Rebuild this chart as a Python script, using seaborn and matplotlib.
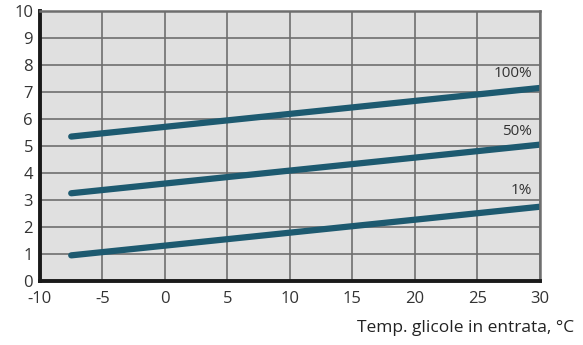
import numpy as np
import pandas as pd
import matplotlib
matplotlib.use("Agg")
import matplotlib.pyplot as plt
import seaborn as sns

# dati
temps = [-7.5, 30]
load_100 = [5.35, 7.15]
load_50 = [3.25, 5.05]
load_1 = [0.95, 2.75]
series_labels = ["100%", "50%", "1%"]
label_y = [7.68, 5.55, 3.35]

x_ticks = list(range(-10, 31, 5))
y_ticks = list(range(0, 11))

LINE_COLOR = "#1d5a70"


def build_frame():
    rows = []
    for name, vals in zip(series_labels, [load_100, load_50, load_1]):
        for t, v in zip(temps, vals):
            rows.append({"temp": t, "val": v, "serie": name})
    return pd.DataFrame(rows)


def main():
    sns.set_theme(style="white")
    plt.rcParams["font.family"] = ["Open Sans", "DejaVu Sans"]

    fig = plt.figure(figsize=(5.83, 3.45), dpi=100)
    ax = fig.add_axes([0.0686, 0.1855, 0.857, 0.7825])
    ax.set_facecolor("#e0e0e0")

    df = build_frame()
    sns.lineplot(data=df, x="temp", y="val", hue="serie", ax=ax,
                 palette=[LINE_COLOR] * 3, linewidth=4.5, legend=False,
                 solid_capstyle="round")

    ax.set_xlim(-10, 30)
    ax.set_ylim(0, 10)
    ax.set_xticks(x_ticks)
    ax.set_yticks(y_ticks)
    ax.set_xticklabels([str(t) for t in x_ticks])
    ax.grid(True, color="#6e6e6e", linewidth=1.2)
    ax.set_axisbelow(True)

    for s in ["left", "bottom"]:
        ax.spines[s].set_color("#1a1a1a")
        ax.spines[s].set_linewidth(2.8)
    for s in ["top", "right"]:
        ax.spines[s].set_color("#6e6e6e")
        ax.spines[s].set_linewidth(1.8)

    ax.tick_params(axis="both", direction="out", length=4, width=1,
                   color="#555555", labelsize=12, labelcolor="#333333", pad=1)
    ax.tick_params(axis="x", pad=3)

    for lab, y in zip(series_labels, label_y):
        ax.text(29.4, y, lab, ha="right", va="center", fontsize=11,
                color="#333333")

    ax.set_xlabel("")
    ax.set_ylabel("")
    fig.text(0.985, 0.05, "Temp. glicole in entrata, °C", ha="right",
             va="center", fontsize=12.5, color="#222222")

    fig.savefig("out.png", dpi=100)


if __name__ == "__main__":
    main()
